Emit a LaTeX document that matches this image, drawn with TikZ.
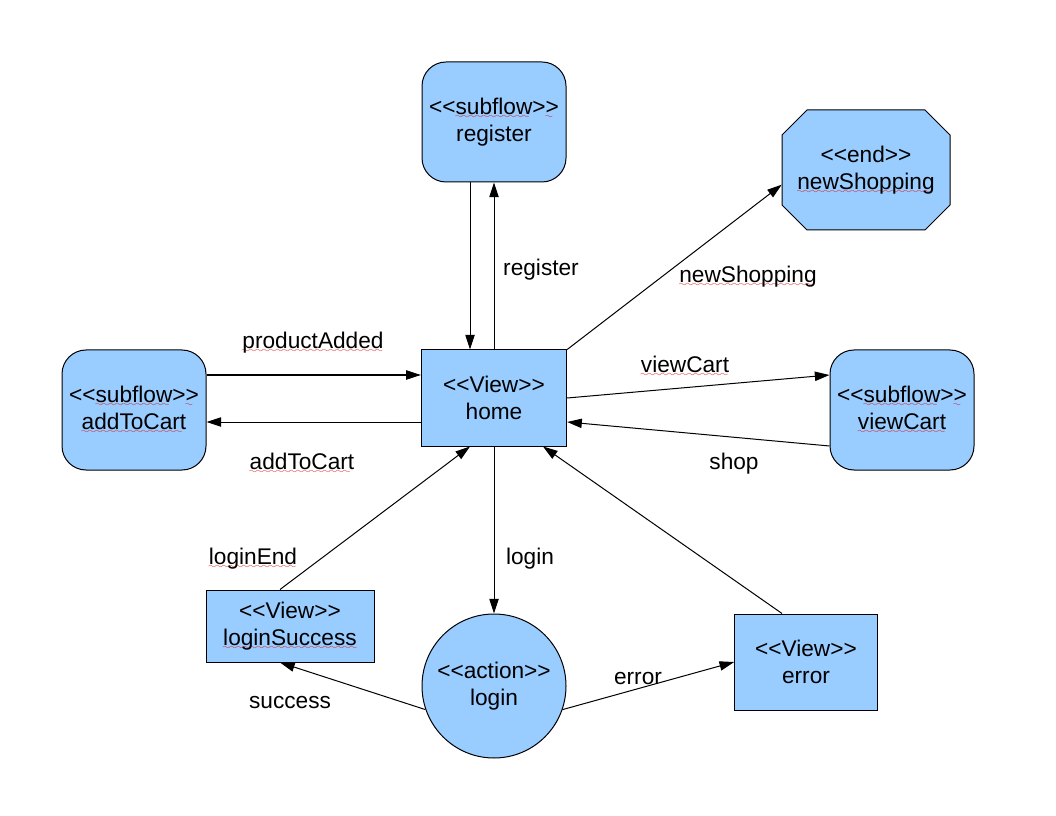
\documentclass[tikz,border=0pt]{standalone}
\usepackage{fontspec}
\setmainfont{Liberation Sans}[Ligatures=TeXOff]
\usetikzlibrary{arrows.meta}
\definecolor{flowStateBlue}{HTML}{99CCFF}
\definecolor{spellRed}{HTML}{E01010}
\font\spellwavefont=lasy6
\newcommand{\spellwave}[1]{\setbox0\hbox{#1}\rlap{\textcolor{spellRed}{\lower3pt\hbox to\wd0{\leaders\hbox{\spellwavefont\char58}\hfil}}}\box0}

\begin{document}
\begin{tikzpicture}[x=0.75pt,y=-0.75pt,
    stateText/.style={font=\fontsize{17}{20}\selectfont, align=center, inner sep=0pt},
    viewState/.style={stateText, draw, fill=flowStateBlue, line width=0.75pt},
    subflowState/.style={viewState, rounded corners=18pt, minimum width=108pt, minimum height=90pt},
    flowLabel/.style={stateText, anchor=base},
    flowArrow/.style={-{Triangle[length=11pt,width=7pt]}, line width=0.75pt}]
  \useasboundingbox (0,0) rectangle (1056,816);

  \node[subflowState] (register) at (494,122) {<<\spellwave{subflow}>\spellwave{>}\\register};
  \coordinate (newShoppingC) at (866,170);
  \filldraw[fill=flowStateBlue, line width=0.75pt] ([shift={(-84,-35)}]newShoppingC) -- ([shift={(-59,-60)}]newShoppingC)
    -- ([shift={(59,-60)}]newShoppingC) -- ([shift={(84,-35)}]newShoppingC) -- ([shift={(84,35)}]newShoppingC)
    -- ([shift={(59,60)}]newShoppingC) -- ([shift={(-59,60)}]newShoppingC) -- ([shift={(-84,35)}]newShoppingC) -- cycle;
  \node[stateText, minimum width=126pt, minimum height=90pt] (newShopping) at (newShoppingC) {<<end>>\\\spellwave{newShopping}};
  \node[viewState, minimum width=109pt, minimum height=72pt] (home) at (494,398) {<<View>>\\home};
  \node[subflowState] (addToCart) at (134,410) {<<\spellwave{subflow}>\spellwave{>}\\\spellwave{addToCart}};
  \node[subflowState] (viewCart) at (902,410) {<<\spellwave{subflow}>\spellwave{>}\\\spellwave{viewCart}};
  \node[viewState, minimum width=126pt, minimum height=54pt] (loginSuccess) at (290,626) {<<View>>\\\spellwave{loginSuccess}};
  \node[viewState, circle, minimum size=108pt] (login) at (494,686) {<<action>>\\login};
  \node[viewState, minimum width=107pt, minimum height=72pt] (error) at (806,662) {<<View>>\\error};

  \draw[flowArrow] ([xshift=-18pt]register.south) -- ([xshift=-18pt]home.north);
  \draw[flowArrow] (home.north) -- (register.south);
  \draw[flowArrow] (home.north east) -- ([yshift=-11pt]newShopping.west);
  \draw[flowArrow] (addToCart.east |- 0,375) -- (home.west |- 0,375);
  \draw[flowArrow] (home.west |- 0,422) -- (addToCart.east |- 0,422);
  \draw[flowArrow] (home.east) -- (viewCart.west |- 0,375);
  \draw[flowArrow] (viewCart.west |- 0,446) -- (home.east |- 0,422);
  \draw[flowArrow] (home.south) -- (login.north);
  \draw[flowArrow] (loginSuccess.north -| 280,0) -- (home.south -| 470,0);
  \draw[flowArrow] (error.north -| 782,0) -- (home.south -| 543,0);
  \draw[flowArrow] (login.199) -- (loginSuccess.south -| 280,0);
  \draw[flowArrow] (login.-19) -- (error.west);

  \node[flowLabel] (lblRegister) at (541,276) {register};
  \node[flowLabel] (lblNewShopping) at (748,283) {\spellwave{newShopping}};
  \node[flowLabel] (lblProductAdded) at (313,349) {\spellwave{productAdded}};
  \node[flowLabel] (lblAddToCart) at (302,469) {\spellwave{addToCart}};
  \node[flowLabel] (lblViewCart) at (685,373) {\spellwave{viewCart}};
  \node[flowLabel] (lblShop) at (734,469) {shop};
  \node[flowLabel] (lblLogin) at (530,564) {login};
  \node[flowLabel] (lblLoginEnd) at (253,564) {\spellwave{loginEnd}};
  \node[flowLabel] (lblSuccess) at (290,708) {success};
  \node[flowLabel] (lblError) at (638,684) {error};
\end{tikzpicture}
\end{document}
